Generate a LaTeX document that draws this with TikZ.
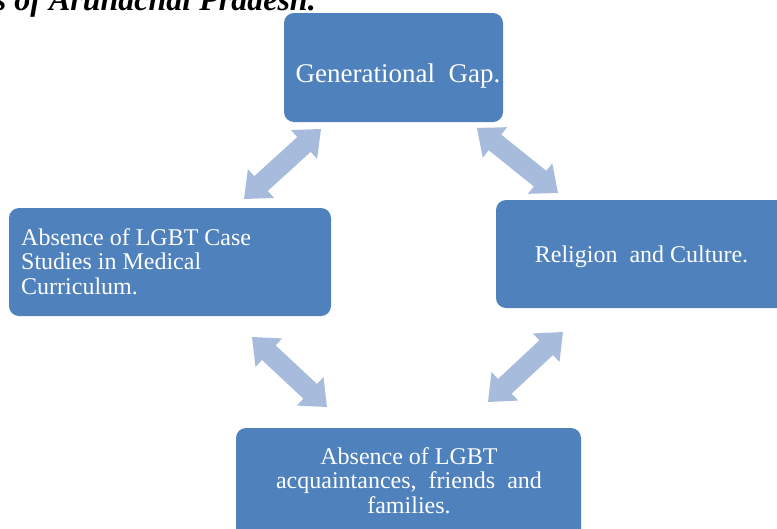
\documentclass[tikz,border=0pt]{standalone}
\usepackage{fontspec}
\setmainfont{Liberation Serif}
\usetikzlibrary{calc}
\definecolor{boxc}{RGB}{79,129,189}
\definecolor{arrc}{RGB}{167,187,220}
\tikzset{
  boxst/.style={fill=boxc, rounded corners=10pt, inner sep=0pt, outer sep=0pt},
  txt/.style={text=white, inner sep=0pt, font=\fontsize{24}{24.5}\selectfont},
}
\newcommand\blockarrow[3]{%
  \coordinate (#1p) at ($(#2)!23pt!(#3)$);
  \coordinate (#1q) at ($(#3)!23pt!(#2)$);
  \fill[arrc] (#2) -- ($(#1p)!19.5pt!90:(#3)$) -- ($(#1p)!10pt!90:(#3)$)
    -- ($(#1q)!10pt!-90:(#2)$) -- ($(#1q)!19.5pt!-90:(#2)$) -- (#3)
    -- ($(#1q)!19.5pt!90:(#2)$) -- ($(#1q)!10pt!90:(#2)$)
    -- ($(#1p)!10pt!-90:(#3)$) -- ($(#1p)!19.5pt!-90:(#3)$) -- cycle;}
\begin{document}
\begin{tikzpicture}[x=1pt,y=-1pt]
\useasboundingbox (0,0) rectangle (777,528);
\clip (0,0) rectangle (777,528);
% title (cut off at top, as in the reference)
\node[anchor=base east, inner sep=0pt, font=\fontsize{32}{34}\selectfont\bfseries\itshape] (title) at (316,10) {s of Arunachal Pradesh.};
% boxes
\node[boxst, minimum width=219pt, minimum height=109pt] (gap) at (393.5,67.5) {};
\node[boxst, minimum width=322pt, minimum height=108pt] (curr) at (170,262) {};
\node[boxst, minimum width=292pt, minimum height=108pt] (rel) at (642,254) {};
\node[boxst, minimum width=345pt, minimum height=120pt] (acq) at (408.5,488) {};
% texts (base anchor = baseline of last line)
\node[txt, anchor=base, font=\fontsize{27}{30}\selectfont] (gapt) at (398,82) {Generational\ \ Gap.};
\node[txt, anchor=base west, align=left] (currt) at (21,294) {Absence of LGBT Case\\Studies in Medical\\Curriculum.};
\node[txt, anchor=base] (relt) at (641.5,262) {Religion\ \ and Culture.};
\node[txt, anchor=base, align=center] (acqt) at (409,513) {Absence of LGBT\\acquaintances,\ \ friends\ \ and\\families.};
% arrows
\coordinate (a1s) at (244,199); \coordinate (a1e) at (321,129);
\coordinate (a2s) at (477,128); \coordinate (a2e) at (558,193);
\coordinate (a3s) at (252,337); \coordinate (a3e) at (327,407);
\coordinate (a4s) at (563,332); \coordinate (a4e) at (488,402);
\blockarrow{ar1}{a1s}{a1e}
\blockarrow{ar2}{a2s}{a2e}
\blockarrow{ar3}{a3s}{a3e}
\blockarrow{ar4}{a4s}{a4e}
\end{tikzpicture}
\end{document}
